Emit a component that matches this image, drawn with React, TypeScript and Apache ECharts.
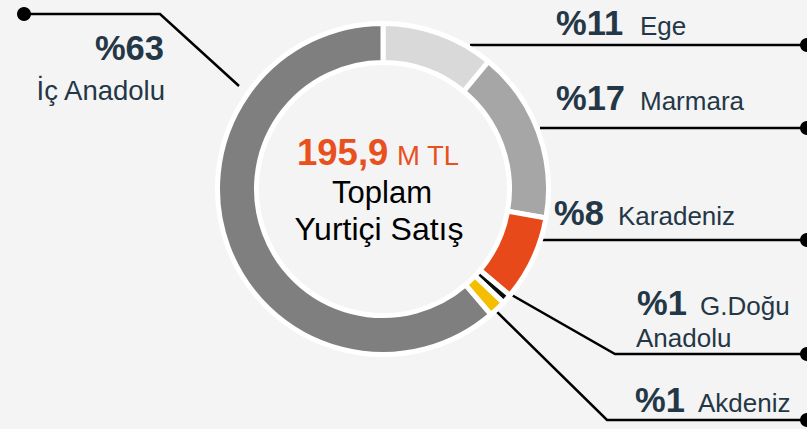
import React, { useEffect, useRef } from "react";
import * as echarts from "echarts";

// ---- data ----
const regions = ["Ege", "Marmara", "Karadeniz", "G.Doğu Anadolu", "Akdeniz", "İç Anadolu"];
const shares = [11, 16.8, 8.3, 0.95, 1.65, 61.3];
const shareLabels = ["%11", "%17", "%8", "%1", "%1", "%63"];
const nameLabels = ["Ege", "Marmara", "Karadeniz", "G.Doğu", "Akdeniz", "İç Anadolu"];
const totalValue = "195,9";
const totalUnit = "M TL";
const centerLines = ["Toplam", "Yurtiçi Satış"];

const sliceColors = ["#d9d9d9", "#a6a6a6", "#e8491a", "#0d0d0d", "#f5be00", "#7f7f7f"];

const FONT = "'Liberation Sans', Arial, sans-serif";
const NAVY = "#243746";
const ORANGE = "#e8501e";
const BG = "#f4f4f4";

export default function App() {
  const ref = useRef<HTMLDivElement>(null);
  useEffect(() => {
    if (!ref.current) return;
    const chart = echarts.init(ref.current, undefined, { renderer: "svg" });

    const lineStyle = { stroke: "#000", lineWidth: 2.5, fill: "none" };
    const poly = (pts: number[][]) => ({
      type: "polyline",
      shape: { points: pts },
      style: lineStyle,
      silent: true,
    });
    const dot = (x: number, y: number) => ({
      type: "circle",
      shape: { cx: x, cy: y, r: 7 },
      style: { fill: "#000" },
      silent: true,
    });
    const txt = (
      text: string,
      x: number,
      y: number,
      size: number,
      bold: boolean,
      color: string,
      align: string = "left"
    ) => ({
      type: "text",
      x,
      y,
      silent: true,
      style: {
        text,
        fill: color,
        font: `${bold ? "bold " : ""}${size}px ${FONT}`,
        align,
        verticalAlign: "middle",
      },
    });

    const B = 34.5; // bold percentage size
    const N = 26; // name size

    const graphics: any[] = [
      // İç Anadolu (left)
      poly([[24, 14], [160, 14], [239, 86]]),
      dot(24, 14),
      txt(shareLabels[5], 164, 48, B, true, NAVY, "right"),
      txt(nameLabels[5], 165, 90.5, 27.5, false, NAVY, "right"),
      // Ege
      poly([[470, 45], [807, 45]]),
      dot(807, 45),
      txt(shareLabels[0], 556, 23, B, true, NAVY),
      txt(nameLabels[0], 640, 26, N, false, NAVY),
      // Marmara
      poly([[540, 128], [807, 128]]),
      dot(807, 128),
      txt(shareLabels[1], 556, 98, B, true, NAVY),
      txt(nameLabels[1], 640, 101, N, false, NAVY),
      // Karadeniz
      poly([[540, 240], [807, 240]]),
      dot(807, 240),
      txt(shareLabels[2], 554, 213, B, true, NAVY),
      txt(nameLabels[2], 618, 216, N, false, NAVY),
      // G.Doğu Anadolu
      poly([[482, 278], [615, 354], [807, 354]]),
      dot(807, 354),
      txt(shareLabels[3], 637, 303, B, true, NAVY),
      txt(nameLabels[3], 700, 306, N, false, NAVY),
      txt("Anadolu", 636, 338, N, false, NAVY),
      // Akdeniz
      poly([[488, 303], [607, 420], [807, 420]]),
      dot(807, 420),
      txt(shareLabels[4], 635, 400, B, true, NAVY),
      txt(nameLabels[4], 698, 403, N, false, NAVY),
      // centre
      txt(totalValue, 297, 152.5, 36.5, true, ORANGE),
      txt(totalUnit, 397, 155.5, 27.5, false, ORANGE),
      txt(centerLines[0], 382, 192, 31, false, "#000", "center"),
      txt(centerLines[1], 379, 228.5, 32, false, "#000", "center"),
    ];

    chart.setOption({
      animation: false,
      backgroundColor: BG,
      series: [
        {
          type: "pie",
          center: [383, 189],
          radius: [126.5, 165.5],
          startAngle: 90,
          clockwise: true,
          silent: true,
          label: { show: false },
          labelLine: { show: false },
          emphasis: { disabled: true },
          itemStyle: { borderColor: "#ffffff", borderWidth: 5 },
          data: regions.map((name, i) => ({
            name,
            value: shares[i],
            itemStyle: { color: sliceColors[i] },
          })),
        },
      ],
      graphic: graphics,
    });
    return () => chart.dispose();
  }, []);

  return (
    <div
      ref={ref}
      style={{ position: "fixed", left: 0, top: 0, width: 807, height: 429, background: BG }}
    />
  );
}
